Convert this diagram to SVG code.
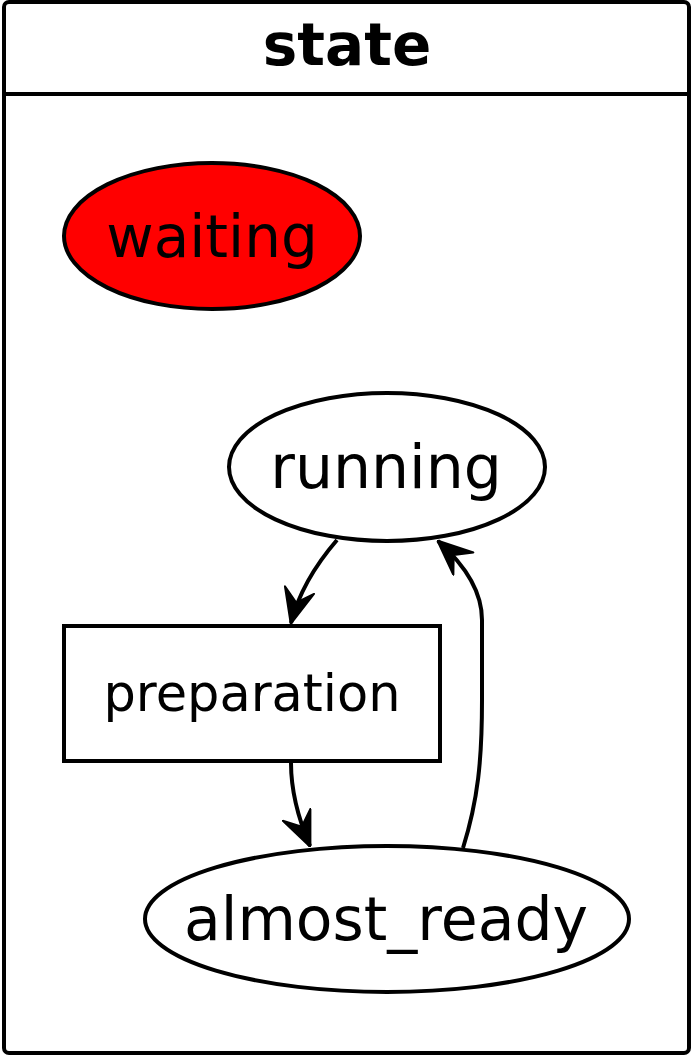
<svg xmlns="http://www.w3.org/2000/svg" width="693" height="1056" viewBox="0 0 693 1056">
<style>
.shape{fill:#fff;stroke:#000;stroke-width:4}
.lbl{font-family:"DejaVu Sans",sans-serif;font-size:60px;text-anchor:middle;fill:#000}
.edge{fill:none;stroke:#000;stroke-width:4}
</style>
<defs>
<marker id="ah" markerUnits="userSpaceOnUse" markerWidth="36" markerHeight="32" refX="35" refY="16" orient="auto" viewBox="0 0 36 32">
<path d="M36,16 L1,1 L14,16 L1,31 Z" fill="#000" stroke="#000" stroke-width="2" stroke-linejoin="round"/>
</marker>
</defs>
<rect width="693" height="1056" fill="#fff"/>
<g id="frame">
<rect x="4" y="2" width="685" height="1051" rx="5" ry="5" class="shape"/>
<line x1="4" y1="94" x2="689" y2="94" stroke="#000" stroke-width="4"/>
<text x="347" y="65" font-family="DejaVu Sans,sans-serif" font-weight="bold" font-size="58" text-anchor="middle">state</text>
</g>
<g id="waiting">
<ellipse cx="212" cy="236" rx="148" ry="73" class="shape" style="fill:#f00"/>
<text x="212" y="257" class="lbl" style="font-size:58px">waiting</text>
</g>
<g id="running">
<ellipse cx="387" cy="467" rx="158" ry="74" class="shape"/>
<text x="386" y="488" class="lbl">running</text>
</g>
<g id="preparation">
<rect x="64" y="626" width="376" height="135" class="shape"/>
<text x="252" y="711" class="lbl" style="font-size:51px">preparation</text>
</g>
<g id="almost_ready">
<ellipse cx="387" cy="919" rx="242" ry="73" class="shape"/>
<text x="386" y="940" class="lbl">almost_ready</text>
</g>
<g id="connectors">
<path class="edge" d="M337,540 C318,562 300,588 291,623" marker-end="url(#ah)"/>
<path class="edge" d="M291,763 C291,792 298,818 310,846" marker-end="url(#ah)"/>
<path class="edge" d="M463,848 C478,800 482,760 482,700 L482,620 C482,592 466,566 438,541" marker-end="url(#ah)"/>
</g>
</svg>
